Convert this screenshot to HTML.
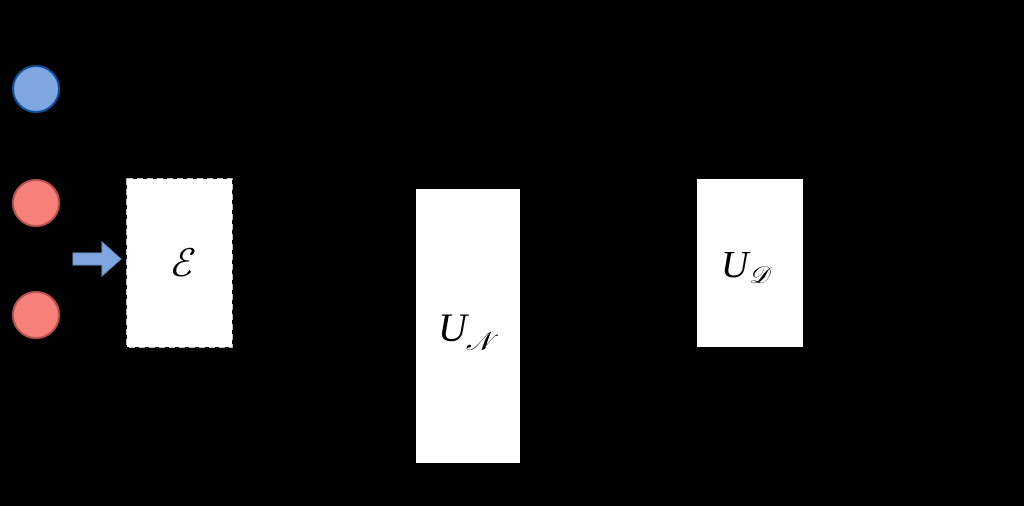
<!DOCTYPE html>
<html><head><style>
html,body{margin:0;padding:0;background:#000;width:1024px;height:506px;overflow:hidden}
svg{display:block}
text{font-family:"Liberation Serif",serif;font-style:italic}
</style></head><body>
<svg width="1024" height="506" viewBox="0 0 1024 506">
<rect width="1024" height="506" fill="#000"/>
<circle cx="36" cy="89" r="23" fill="#7ea6e0" stroke="#0e4d9b" stroke-width="2"/>
<circle cx="36" cy="203" r="23" fill="#f8807a" stroke="#b85450" stroke-width="2"/>
<circle cx="36" cy="315" r="23" fill="#f8807a" stroke="#b85450" stroke-width="2"/>
<polygon points="73,253 102,253 102,242 121,259 102,276 102,265 73,265" fill="#7ea6e0" stroke="#6c8ebf" stroke-width="1"/>
<rect x="127" y="179" width="105" height="168" fill="#fff" stroke="#fff" stroke-dasharray="6 4" stroke-width="1.5"/>
<rect x="128" y="180" width="103" height="166" fill="#fff"/>
<text x="180" y="276" font-size="38" text-anchor="middle" fill="#000">ℰ</text>
<rect x="416" y="189" width="104" height="274" fill="#fff"/>
<text x="438" y="341" font-size="40" fill="#000">U</text>
<text x="466" y="350" font-size="26" fill="#000">𝒩</text>
<rect x="697" y="179" width="106" height="168" fill="#fff"/>
<text x="721" y="277" font-size="38" fill="#000">U</text>
<text x="749" y="283" font-size="24" fill="#000">𝒟</text>
</svg>
</body></html>
